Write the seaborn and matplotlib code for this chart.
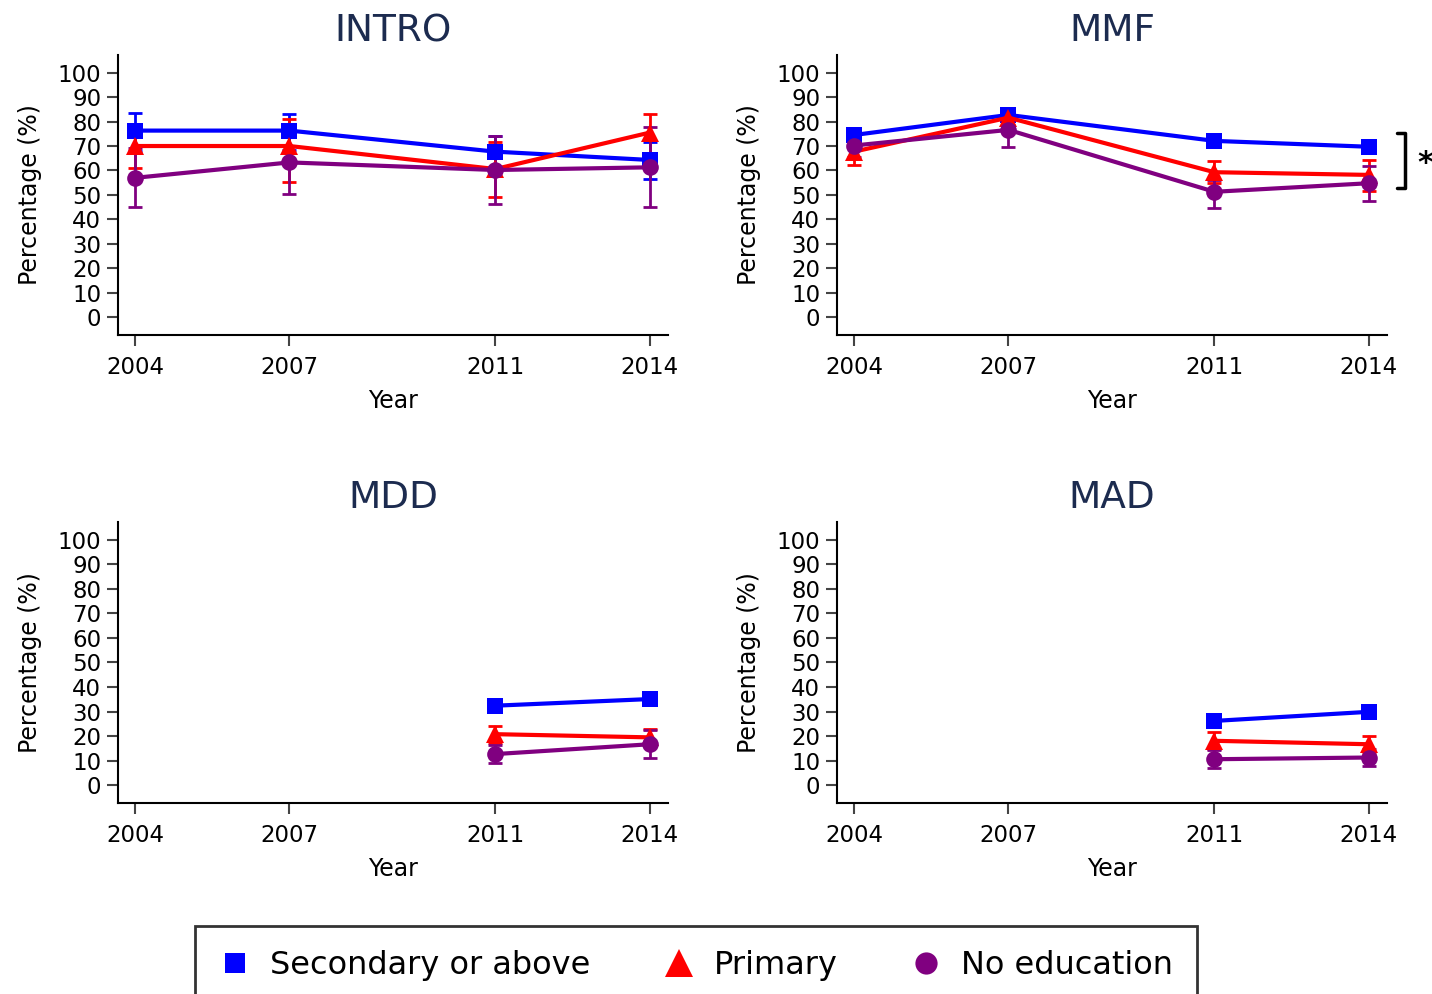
import pandas as pd
import matplotlib.pyplot as plt
from matplotlib.lines import Line2D
import seaborn as sns

# Data
groups = ['Secondary or above', 'Primary', 'No education']
years_all = [2004, 2007, 2011, 2014]
years_late = [2011, 2014]

intro_mean = {'Secondary or above': [76.3, 76.3, 67.7, 64.3],
              'Primary': [70.0, 70.0, 60.6, 75.5],
              'No education': [57.0, 63.3, 60.2, 61.3]}
intro_lo = {'Secondary or above': [68.0, 68.5, 61.4, 56.5],
            'Primary': [61.0, 55.5, 49.0, 66.0],
            'No education': [45.0, 50.3, 46.5, 45.0]}
intro_hi = {'Secondary or above': [83.5, 83.2, 74.0, 71.5],
            'Primary': [79.0, 81.0, 71.5, 83.0],
            'No education': [69.0, 76.3, 73.9, 77.6]}

mmf_mean = {'Secondary or above': [74.5, 82.7, 72.1, 69.7],
            'Primary': [67.7, 81.6, 59.3, 58.2],
            'No education': [70.2, 76.6, 51.3, 54.8]}
mmf_lo = {'Secondary or above': [71.5, 80.5, 69.5, 67.0],
          'Primary': [62.3, 78.5, 54.8, 51.5],
          'No education': [65.7, 69.8, 44.8, 47.5]}
mmf_hi = {'Secondary or above': [77.5, 85.0, 75.0, 72.5],
          'Primary': [73.0, 84.5, 64.0, 64.3],
          'No education': [74.0, 83.4, 56.0, 61.8]}

mdd_mean = {'Secondary or above': [32.4, 35.1],
            'Primary': [20.8, 19.5],
            'No education': [12.7, 16.7]}
mdd_lo = {'Secondary or above': [31.0, 33.7],
          'Primary': [17.4, 16.0],
          'No education': [8.9, 11.0]}
mdd_hi = {'Secondary or above': [33.8, 36.5],
          'Primary': [24.2, 23.1],
          'No education': [16.5, 22.4]}

mad_mean = {'Secondary or above': [26.2, 29.9],
            'Primary': [18.1, 16.7],
            'No education': [10.6, 11.3]}
mad_lo = {'Secondary or above': [25.0, 28.7],
          'Primary': [14.7, 13.3],
          'No education': [6.9, 7.8]}
mad_hi = {'Secondary or above': [27.4, 31.1],
          'Primary': [21.5, 20.1],
          'No education': [14.3, 14.8]}

colors = {'Secondary or above': '#0000ff', 'Primary': '#ff0000', 'No education': '#800080'}
markers = {'Secondary or above': 's', 'Primary': '^', 'No education': 'o'}
msizes = {'Secondary or above': 11, 'Primary': 13, 'No education': 12}
leg_sizes = {'Secondary or above': 15, 'Primary': 20, 'No education': 16}

sns.set_style('white')
plt.rcParams['font.family'] = ['DejaVu Sans']
plt.rcParams['text.color'] = 'black'
plt.rcParams['axes.labelcolor'] = 'black'

fig = plt.figure(figsize=(14.32, 9.94), dpi=100)

panels = [
    ('INTRO', years_all, intro_mean, intro_lo, intro_hi, [0.0824, 0.663, 0.384, 0.2817]),
    ('MMF', years_all, mmf_mean, mmf_lo, mmf_hi, [0.5845, 0.663, 0.384, 0.2817]),
    ('MDD', years_late, mdd_mean, mdd_lo, mdd_hi, [0.0824, 0.1922, 0.384, 0.2827]),
    ('MAD', years_late, mad_mean, mad_lo, mad_hi, [0.5845, 0.1922, 0.384, 0.2827]),
]

title_color = '#1c2b4f'

for title, yrs, mean, lo, hi, rect in panels:
    ax = fig.add_axes(rect)
    rows = []
    for g in groups:
        for y, v in zip(yrs, mean[g]):
            rows.append({'Year': y, 'Pct': v, 'Education': g})
    df = pd.DataFrame(rows)

    # error bars first, lines/markers on top
    for i, g in enumerate(groups):
        err_low = [m - l for m, l in zip(mean[g], lo[g])]
        err_high = [h - m for m, h in zip(mean[g], hi[g])]
        ax.errorbar(yrs, mean[g], yerr=[err_low, err_high], fmt='none',
                    ecolor=colors[g], elinewidth=2, capsize=5, capthick=2,
                    zorder=2 + i)

    for i, g in enumerate(groups):
        sns.lineplot(data=df[df['Education'] == g], x='Year', y='Pct',
                     color=colors[g], marker=markers[g], markersize=msizes[g],
                     markeredgewidth=0, linewidth=3, ax=ax, legend=False,
                     zorder=5 + i)

    ax.set_xlim(2003.67, 2014.35)
    ax.set_ylim(-7.2, 107.2)
    ax.set_xticks(years_all)
    ax.set_yticks(range(0, 101, 10))
    ax.tick_params(axis='both', direction='out', length=8, width=1.5,
                   color='#444444', labelcolor='black', labelsize=16.5,
                   left=True, bottom=True)
    ax.tick_params(axis='x', pad=7)
    ax.tick_params(axis='y', pad=4)
    for s in ['top', 'right']:
        ax.spines[s].set_visible(False)
    for s in ['left', 'bottom']:
        ax.spines[s].set_color('black')
        ax.spines[s].set_linewidth(1.5)
    ax.set_xlabel('Year', fontsize=17, labelpad=7)
    ax.set_ylabel('Percentage (%)', fontsize=17, labelpad=11)
    ax.set_title(title, fontsize=27, color=title_color, pad=10)

    if title == 'MMF':
        # significance bracket
        ax.plot([2014.55, 2014.7, 2014.7, 2014.55], [75.3, 75.3, 52.8, 52.8],
                color='black', linewidth=2.5, clip_on=False)
        ax.text(2015.1, 63.0, '*', fontsize=22, fontweight='bold',
                ha='center', va='center', clip_on=False)

handles = [Line2D([], [], linestyle='none', marker=markers[g], color=colors[g],
                  markersize=leg_sizes[g], markeredgewidth=0) for g in groups]
leg = fig.legend(handles, groups, loc='upper left', ncol=3, mode='expand',
                 bbox_to_anchor=(0.1362, 1 - 926 / 994 - 0.05, 0.6998, 0.05),
                 fontsize=23, frameon=True, fancybox=False, borderpad=0.75,
                 handlelength=1.0, handletextpad=0.6, borderaxespad=0)
leg.get_frame().set_edgecolor('black')
leg.get_frame().set_linewidth(2)

plt.savefig('out.png', dpi=100)
